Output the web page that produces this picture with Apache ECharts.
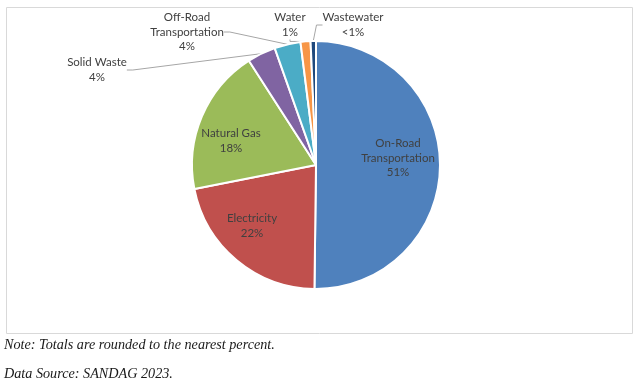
<!DOCTYPE html>
<html>
<head>
<meta charset="utf-8">
<script src="https://cdn.jsdelivr.net/npm/echarts@6/dist/echarts.min.js"></script>
<style>
html,body{margin:0;padding:0;background:#fff;}
#chart{width:634px;height:384px;}
</style>
</head>
<body>
<div id="chart"></div>
<script>
// Data
const categories = ['On-Road Transportation', 'Electricity', 'Natural Gas', 'Solid Waste', 'Off-Road Transportation', 'Water', 'Wastewater'];
const shares = [50.2, 21.7, 19.0, 3.7, 3.4, 1.3, 0.7];
const shareLabels = ['51%', '22%', '18%', '4%', '4%', '1%', '<1%'];
const noteLines = ['Note: Totals are rounded to the nearest percent.', 'Data Source: SANDAG 2023.'];

const colors = ['#4F81BD', '#C0504D', '#9BBB59', '#8064A2', '#4BACC6', '#F79646', '#1F497D'];
const insideCount = 3;
// label centre positions (layout only)
const labelPos = [[398, 158], [252, 226], [231, 141], [97, 70], [187, 32], [290, 25], [353, 25]];

const chart = echarts.init(document.getElementById('chart'), null, {renderer: 'canvas'});

const data = categories.map((c, i) => ({
  name: c,
  value: shares[i],
  itemStyle: {color: colors[i]},
  label: {position: i < insideCount ? 'inside' : 'outside'},
  labelLine: {show: i >= insideCount}
}));

const noteStyle = {fontFamily: 'Liberation Serif', fontStyle: 'italic', fontWeight: 'normal', fontSize: 14.2, color: '#1a1a1a'};

chart.setOption({
  animation: false,
  title: [
    {text: noteLines[0], left: 4, top: 338, textStyle: noteStyle, padding: 0},
    {text: noteLines[1], left: 4, top: 367, textStyle: noteStyle, padding: 0}
  ],
  graphic: [{
    type: 'rect', left: 4, top: 5, shape: {width: 626, height: 326},
    style: {fill: 'none', stroke: '#d9d9d9', lineWidth: 1}, silent: true, z: -1
  }],
  series: [{
    type: 'pie',
    center: [316, 165],
    radius: 124,
    startAngle: 90,
    clockwise: true,
    avoidLabelOverlap: false,
    itemStyle: {borderColor: '#ffffff', borderWidth: 2},
    label: {
      show: true,
      fontFamily: 'Lato',
      fontSize: 11.5,
      lineHeight: 14.5,
      color: '#404040',
      align: 'center',
      formatter: p => p.name.replace(' Transportation', '\nTransportation') + '\n' + shareLabels[p.dataIndex]
    },
    labelLine: {show: true, length: 10, length2: 6, lineStyle: {color: '#a6a6a6', width: 1}},
    labelLayout: p => ({x: labelPos[p.dataIndex][0], y: labelPos[p.dataIndex][1], align: 'center', verticalAlign: 'middle'}),
    data: data
  }]
});
</script>
</body>
</html>
